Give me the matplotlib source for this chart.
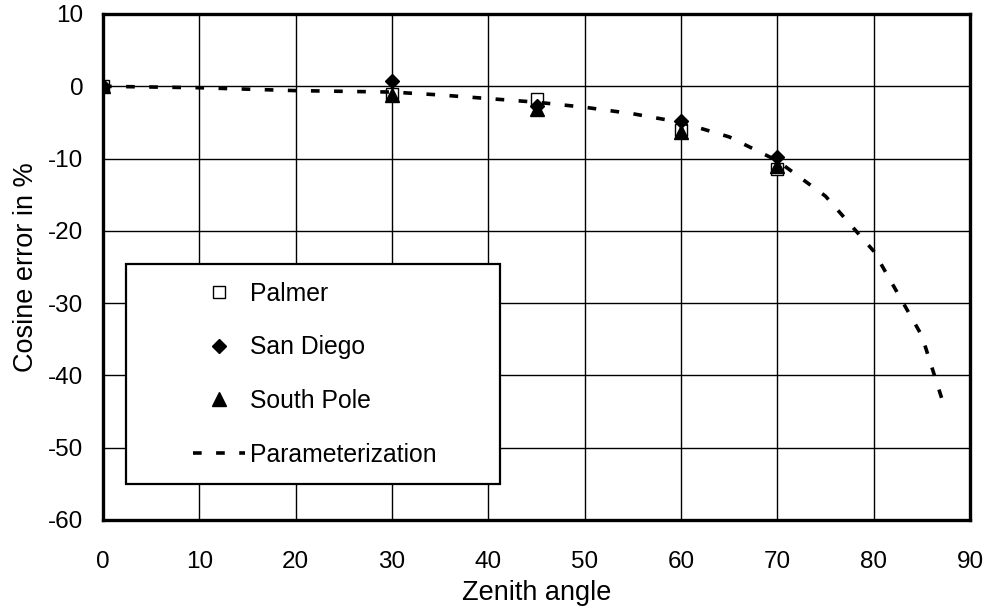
import numpy as np
import matplotlib
matplotlib.use("Agg")
import matplotlib.pyplot as plt
from matplotlib.patches import Rectangle

plt.rcParams['font.family'] = ['Liberation Sans', 'DejaVu Sans']
plt.rcParams['axes.unicode_minus'] = False

# measured stations
angles = [0, 30, 45, 60, 70]
palmer = [0, -1.0, -1.8, -6.0, -11.5]
san_diego = [0, 0.8, -2.7, -4.8, -9.8]
south_pole = [0, -1.2, -3.2, -6.3, -11.0]

# parameterization curve
param_angle = [0, 5, 10, 15, 20, 25, 30, 35, 40, 45, 50, 55, 60, 65, 70, 75, 80, 85, 87.5]
param_err = [0, -0.1, -0.2, -0.4, -0.6, -0.7, -0.8, -1.2, -1.7, -2.2, -2.9, -3.8,
             -5.0, -7.0, -10.3, -15.2, -22.8, -34.5, -45.0]

xticks = np.arange(0, 91, 10)
yticks = np.arange(-60, 11, 10)

fig = plt.figure(figsize=(9.85, 6.07), dpi=100)
ax = fig.add_axes([103/985, 1 - 520/607, 867/985, 506/607])

ax.plot(angles, palmer, linestyle='none', marker='s', ms=9, mfc='white', mec='black',
        mew=1.0, label='Palmer', zorder=3)
ax.plot(angles, san_diego, linestyle='none', marker='D', ms=7, color='black',
        label='San Diego', zorder=3)
ax.plot(angles, south_pole, linestyle='none', marker='^', ms=10, color='black',
        label='South Pole', zorder=3)
ax.plot(param_angle, param_err, color='black', lw=2.6, dashes=(2.4, 4.0),
        label='Parameterization', zorder=4)

ax.set_xlim(0, 90)
ax.set_ylim(-60, 10)
ax.set_xticks(xticks)
ax.set_yticks(yticks)
ax.tick_params(length=0, labelsize=17.5)
ax.tick_params(axis='x', pad=22)
ax.tick_params(axis='y', pad=14)
ax.grid(True, color='black', lw=1.0)
ax.set_axisbelow(True)
for s in ax.spines.values():
    s.set_linewidth(2.4)
    s.set_zorder(5)

ax.set_xlabel('Zenith angle', fontsize=19.5, labelpad=5)
ax.set_ylabel('Cosine error in %', fontsize=19.5, labelpad=7)

# legend box drawn as its own rectangle
ax.add_patch(Rectangle((0.0265, 0.071), 0.4315, 0.435, transform=ax.transAxes,
                       facecolor='white', edgecolor='black', lw=1.6, zorder=6))
leg = ax.legend(loc='upper left', bbox_to_anchor=(0.104, 0.471), frameon=False,
                borderpad=0, borderaxespad=0, numpoints=1, handlelength=2.1,
                handletextpad=0.2, labelspacing=1.2, fontsize=17.8)
leg.set_zorder(7)

fig.savefig('out.png', dpi=100)
